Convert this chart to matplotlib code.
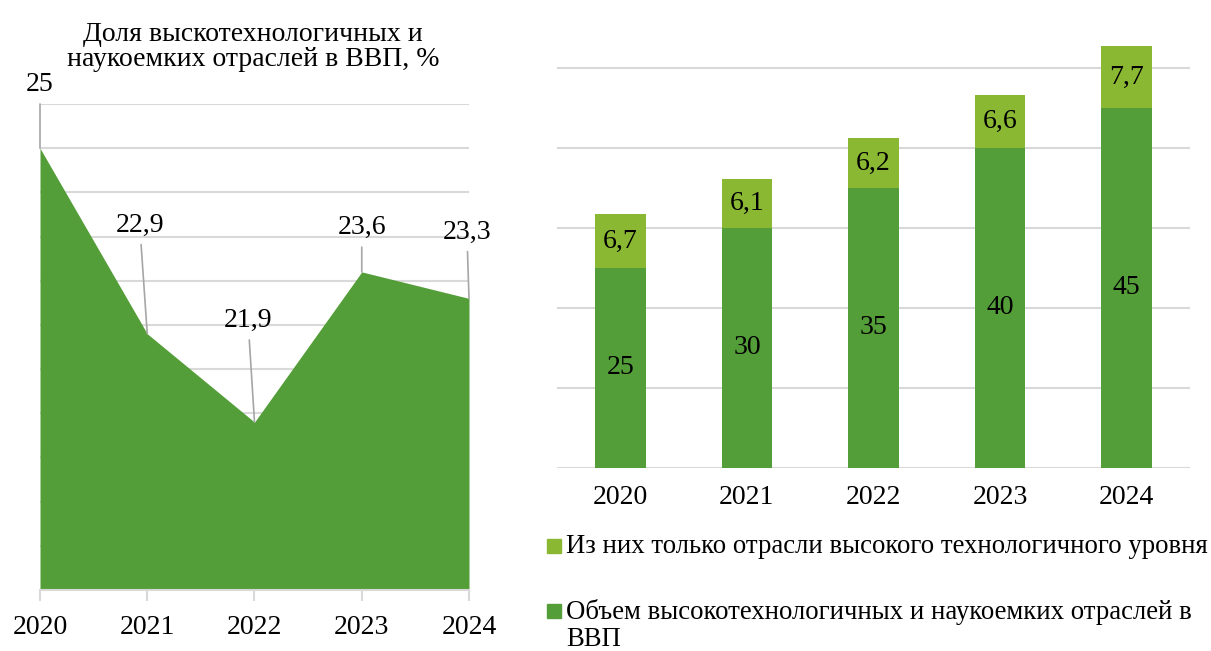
import matplotlib
matplotlib.use("Agg")
import matplotlib.pyplot as plt
from matplotlib.patches import Rectangle

plt.rcParams['font.family'] = ['Liberation Serif', 'DejaVu Serif']

# data
years = ["2020", "2021", "2022", "2023", "2024"]
share_gdp = [25, 22.9, 21.9, 23.6, 23.3]            # left chart, %
volume = [25, 30, 35, 40, 45]                       # dark green segment
high_tech = [6.7, 6.1, 6.2, 6.6, 7.7]               # light green segment
legend_labels = ["Из них только отрасли высокого технологичного уровня",
                 "Объем высокотехнологичных и наукоемких отраслей в\nВВП"]
title_left = "Доля выскотехнологичных и\nнаукоемких отраслей в ВВП, %"

# label offsets (data units) for left chart leader labels
label_dx = [0, -0.07, -0.06, 0, -0.02]
label_dy = [0.72, 1.23, 1.15, 0.5, 0.75]

DARK = "#549E39"
LIGHT = "#8AB833"
GRID = "#D9D9D9"
LEADER = "#A6A6A6"
FS = 20

W, H = 1211, 651
fig = plt.figure(figsize=(W / 100, H / 100), dpi=100)

def box(l, r, b, t):
    return [l / W, (H - b) / H, (r - l) / W, (b - t) / H]

# ---- left: area chart
ax1 = fig.add_axes(box(40, 469, 590, 104))
x = list(range(len(years)))
ax1.fill_between(x, 20, share_gdp, color=DARK, lw=0, zorder=2)
ax1.set_xlim(0, 4)
ax1.set_ylim(20, 25.5)
ax1.set_yticks([20 + 0.5 * i for i in range(12)])
ax1.yaxis.grid(True, color=GRID, lw=1.5, zorder=0)
ax1.tick_params(axis='y', left=False, labelleft=False)
ax1.set_xticks(x)
ax1.set_xticklabels(years, fontsize=FS)
ax1.tick_params(axis='x', color=GRID, length=8, width=1.5, pad=10)
for s in ["top", "left", "right"]:
    ax1.spines[s].set_visible(False)
ax1.spines["bottom"].set_color(GRID)
ax1.spines["bottom"].set_linewidth(1.5)
ax1.set_axisbelow(True)
for i, v in enumerate(share_gdp):
    ax1.annotate(f"{v:g}".replace(".", ","), xy=(i, v),
                 xytext=(i + label_dx[i], v + label_dy[i]),
                 ha="center", va="center", fontsize=FS, annotation_clip=False,
                 arrowprops=dict(arrowstyle="-", color=LEADER, lw=1.2,
                                 shrinkA=3, shrinkB=0), zorder=5)

fig.text(253 / W, 1 - 47 / H, title_left, ha="center", va="center",
         fontsize=FS, linespacing=1.0)

# ---- right: stacked bars
ax2 = fig.add_axes(box(557, 1190, 468, 40))
ax2.bar(x, volume, width=0.4, color=DARK, zorder=2)
ax2.bar(x, high_tech, bottom=volume, width=0.4, color=LIGHT, zorder=2)
ax2.set_xlim(-0.5, 4.5)
ax2.set_ylim(0, 53.5)
ax2.set_yticks(range(0, 51, 10))
ax2.yaxis.grid(True, color=GRID, lw=1.5, zorder=0)
ax2.tick_params(axis='y', left=False, labelleft=False)
ax2.set_xticks(x)
ax2.set_xticklabels(years, fontsize=FS)
ax2.tick_params(axis='x', length=0, pad=12)
for s in ax2.spines.values():
    s.set_visible(False)
for i in x:
    ax2.text(i, volume[i] / 2, f"{volume[i]:g}", ha="center", va="center",
             fontsize=FS, zorder=3)
    ax2.text(i, volume[i] + high_tech[i] / 2, f"{high_tech[i]:g}".replace(".", ","),
             ha="center", va="center", fontsize=FS, zorder=3)

# legend
for color, label, yc in [(LIGHT, legend_labels[0], 546), (DARK, legend_labels[1], 611)]:
    fig.patches.append(Rectangle((547 / W, 1 - (yc + 7) / H), 14 / W, 14 / H,
                                 transform=fig.transFigure, color=color))
    fig.text(566 / W, 1 - (yc - 12) / H, label, ha="left", va="top",
             fontsize=19.3, linespacing=1.12)

fig.savefig("out.png", dpi=100)
